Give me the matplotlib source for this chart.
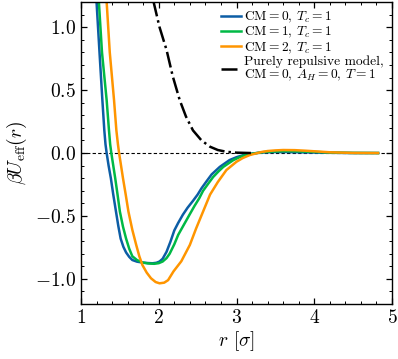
import matplotlib
matplotlib.use('Agg')
import matplotlib.pyplot as plt
from matplotlib.ticker import MultipleLocator

plt.rcParams['font.family'] = 'serif'
plt.rcParams['font.serif'] = ['cmr10']
plt.rcParams['mathtext.fontset'] = 'cm'
plt.rcParams['axes.formatter.use_mathtext'] = True

# CM=0, Tc=1
r_cm0 = [1.20, 1.24, 1.275, 1.30, 1.315, 1.33, 1.355, 1.384, 1.415, 1.45, 1.48, 1.51, 1.545, 1.58, 1.62, 1.66,
         1.72, 1.79, 1.86, 1.92, 1.97, 2.01, 2.05, 2.10, 2.15, 2.20, 2.25, 2.31, 2.37, 2.44,
         2.50, 2.55, 2.62, 2.68, 2.785, 2.91, 3.00, 3.09, 3.18, 3.26, 3.35, 3.5, 3.65, 3.8,
         4.0, 4.2, 4.5, 4.82]
u_cm0 = [1.20, 0.78, 0.42, 0.18, 0.07, 0.0, -0.10, -0.20, -0.33, -0.465, -0.58, -0.68, -0.745, -0.79, -0.825, -0.85,
         -0.863, -0.87, -0.874, -0.876, -0.872, -0.862, -0.84, -0.785, -0.705, -0.615, -0.555, -0.49, -0.435, -0.38,
         -0.33, -0.28, -0.22, -0.17, -0.11, -0.056, -0.033, -0.016, -0.006, 0.0, 0.005, 0.008, 0.008, 0.006,
         0.004, 0.002, 0.0, 0.0]

# CM=1, Tc=1
r_cm1 = [1.23, 1.27, 1.33, 1.36, 1.375, 1.39, 1.415, 1.44, 1.47, 1.50, 1.54, 1.58, 1.62, 1.66, 1.72,
         1.79, 1.86, 1.94, 2.00, 2.05, 2.10, 2.14, 2.20, 2.25, 2.30, 2.35, 2.40, 2.46,
         2.52, 2.57, 2.64, 2.70, 2.77, 2.83, 2.96, 3.04, 3.11, 3.2, 3.28, 3.35, 3.5, 3.65,
         3.8, 4.0, 4.2, 4.5, 4.82]
u_cm1 = [1.20, 0.80, 0.42, 0.18, 0.07, 0.0, -0.10, -0.20, -0.33, -0.465, -0.585, -0.68, -0.76, -0.82, -0.85,
         -0.87, -0.877, -0.88, -0.875, -0.862, -0.835, -0.80, -0.725, -0.65, -0.595, -0.54, -0.485, -0.42,
         -0.36, -0.30, -0.24, -0.19, -0.145, -0.11, -0.056, -0.033, -0.016, -0.006, 0.002, 0.008, 0.013, 0.015,
         0.013, 0.009, 0.004, 0.001, 0.0]

# CM=2, Tc=1
r_cm2 = [1.33, 1.37, 1.425, 1.455, 1.475, 1.49, 1.515, 1.54, 1.575, 1.61, 1.66, 1.71, 1.75, 1.79, 1.845,
         1.90, 1.96, 2.01, 2.07, 2.12, 2.19, 2.29, 2.40, 2.48, 2.57, 2.66, 2.76, 2.87,
         3.00, 3.08, 3.17, 3.25, 3.32, 3.4, 3.5, 3.6, 3.75, 3.9, 4.05, 4.2, 4.5, 4.82]
u_cm2 = [1.20, 0.80, 0.42, 0.18, 0.07, 0.0, -0.10, -0.20, -0.33, -0.465, -0.61, -0.73, -0.82, -0.89, -0.95,
         -0.995, -1.025, -1.035, -1.03, -1.01, -0.94, -0.86, -0.73, -0.60, -0.465, -0.33, -0.23, -0.135,
         -0.069, -0.04, -0.016, -0.003, 0.008, 0.016, 0.021, 0.024, 0.023, 0.018, 0.012, 0.006, 0.001, 0.0]

# purely repulsive model
r_rep = [1.93, 2.01, 2.10, 2.18, 2.27, 2.35, 2.44, 2.55, 2.66, 2.76, 2.87, 3.0, 3.2]
u_rep = [1.21, 1.00, 0.82, 0.61, 0.42, 0.29, 0.18, 0.10, 0.05, 0.024, 0.01, 0.003, 0.0]

labels = ['CM$=$0, $T_c$$=$1', 'CM$=$1, $T_c$$=$1', 'CM$=$2, $T_c$$=$1',
          'Purely repulsive model,\nCM$=$0, $A_H$$=$0, $T$$=$1']

fig = plt.figure(figsize=(3.98, 3.59), dpi=100)
ax = fig.add_axes([0.2035, 0.153, 0.7815, 0.8414])

ax.axhline(0, color='black', lw=0.8, ls='--', dashes=(3, 2))
ax.plot(r_cm0, u_cm0, color='#0C5DA5', lw=1.8, label=labels[0])
ax.plot(r_cm1, u_cm1, color='#00B945', lw=1.8, label=labels[1])
ax.plot(r_cm2, u_cm2, color='#FF9500', lw=1.8, label=labels[2])
ax.plot(r_rep, u_rep, color='black', lw=1.8, ls='-.', label=labels[3])

ax.set_xlim(1, 5)
ax.set_ylim(-1.2, 1.2)
ax.xaxis.set_major_locator(MultipleLocator(1))
ax.xaxis.set_minor_locator(MultipleLocator(0.2))
ax.yaxis.set_major_locator(MultipleLocator(0.5))
ax.yaxis.set_minor_locator(MultipleLocator(0.1))
ax.tick_params(which='both', direction='in', top=True, right=True, labelsize=14)
ax.tick_params(which='major', length=4, width=0.9)
ax.tick_params(which='minor', length=2.2, width=0.7)
for s in ax.spines.values():
    s.set_linewidth(1.0)

ax.set_xlabel('$r$ [$\\sigma$]', fontsize=14, labelpad=2)
ax.set_ylabel('$\\beta U_{\\rm eff}(r)$', fontsize=14, labelpad=4)

leg = ax.legend(loc='upper right', frameon=False, fontsize=9.7, handlelength=1.45,
                handletextpad=0.25, labelspacing=0.0, borderaxespad=0.3,
                borderpad=0.3)
for t in leg.get_texts():
    t.set_linespacing(0.95)

fig.savefig('out.png', dpi=100)
